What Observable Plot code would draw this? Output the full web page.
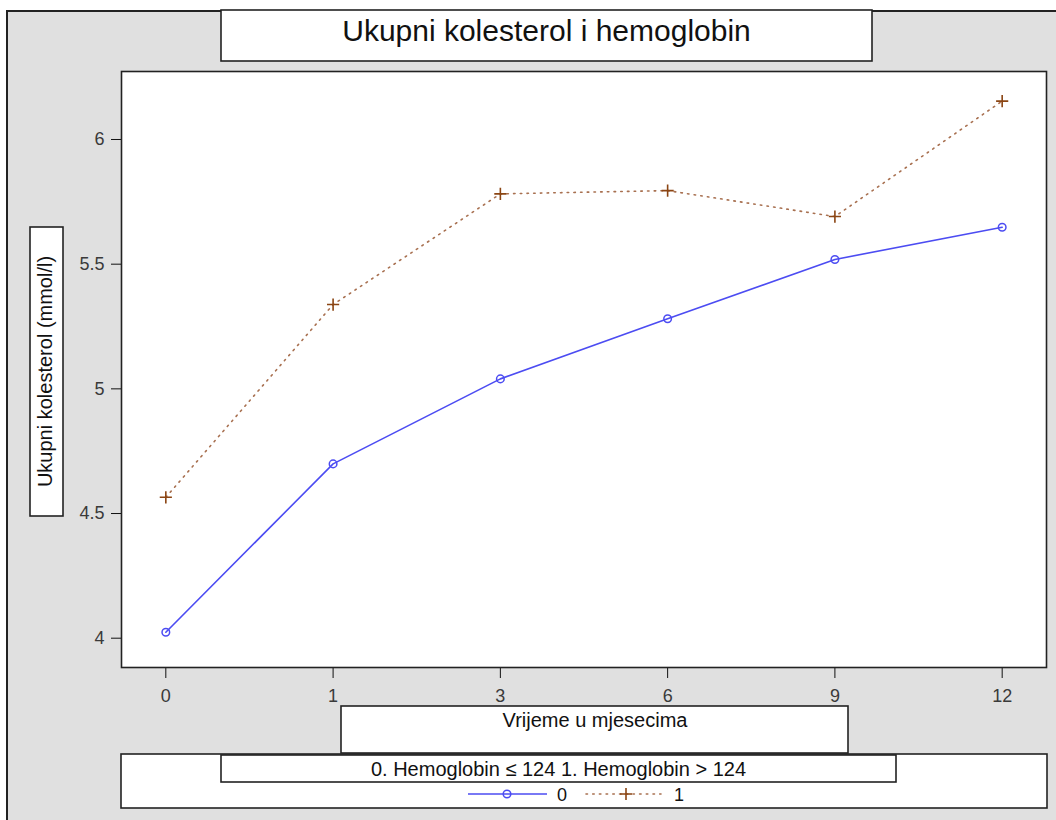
<!DOCTYPE html>
<html>
<head>
<meta charset="utf-8">
<script src="https://cdn.jsdelivr.net/npm/d3@7"></script>
<script src="https://cdn.jsdelivr.net/npm/@observablehq/plot@0.6"></script>
<style>
  html, body { margin: 0; padding: 0; background: white; }
  #chart { width: 1056px; height: 820px; overflow: hidden; }
</style>
</head>
<body>
<div id="chart"></div>
<script>
// ---- data ----
const months = ["0", "1", "3", "6", "9", "12"];
const group0 = [4.024, 4.699, 5.040, 5.281, 5.519, 5.648];   // Hemoglobin <= 124
const group1 = [4.565, 5.338, 5.782, 5.795, 5.691, 6.154];   // Hemoglobin > 124
const seriesNames = ["0", "1"];
const yTicks = [4, 4.5, 5, 5.5, 6];
const titleText = "Ukupni kolesterol i hemoglobin";
const yLabelText = "Ukupni kolesterol (mmol/l)";
const xLabelText = "Vrijeme u mjesecima";
const legendTitleText = "0. Hemoglobin ≤ 124 1. Hemoglobin > 124";

const rows0 = months.map((m, i) => ({month: m, value: group0[i], series: seriesNames[0]}));
const rows1 = months.map((m, i) => ({month: m, value: group1[i], series: seriesNames[1]}));

const blue = "#4c4cf2";
const brown = "#8b4513";
const dotted = "#a87050";
const font = "'Liberation Sans', Arial, Helvetica, sans-serif";

const svgNode = Plot.plot({
  width: 1056,
  height: 820,
  marginLeft: 121,
  marginTop: 71,
  marginRight: 10,
  marginBottom: 153,
  style: {background: "none", fontFamily: font, fontSize: "18px", color: "#222"},
  x: {type: "point", domain: months, padding: 0.265, round: false, label: null},
  y: {domain: [3.8825, 6.2727], label: null},
  marks: [
    Plot.frame({fill: "white", stroke: null}),
    Plot.axisY({ticks: yTicks, tickSize: 10, tickPadding: 7, tickFormat: d => String(d), label: null, fill: "#3a3a3a", stroke: "#111"}),
    Plot.axisX({tickSize: 11, tickPadding: 11, label: null, fill: "#3a3a3a", stroke: "#111"}),
    Plot.line(rows1, {x: "month", y: "value", stroke: dotted, strokeWidth: 1.6, strokeDasharray: "1.5,5.2", strokeLinecap: "round"}),
    Plot.line(rows0, {x: "month", y: "value", stroke: blue, strokeWidth: 1.6}),
    Plot.dot(rows0, {x: "month", y: "value", symbol: "circle", r: 3.8, stroke: blue, fill: "none", strokeWidth: 1.5}),
    Plot.dot(rows1, {x: "month", y: "value", symbol: "plus", r: 4, stroke: brown, strokeWidth: 1.6}),
    Plot.frame({stroke: "#222", strokeWidth: 1.6, fill: "none"})
  ]
});

document.getElementById("chart").appendChild(svgNode);
const svg = d3.select(svgNode);

// gray outer frame behind everything
svg.insert("rect", ":first-child")
  .attr("x", 7).attr("y", 11).attr("width", 1200).attr("height", 1000)
  .attr("fill", "#e0e0e0").attr("stroke", "#222").attr("stroke-width", 2);

function box(x0, y0, x1, y1) {
  svg.append("rect")
    .attr("x", x0).attr("y", y0).attr("width", x1 - x0).attr("height", y1 - y0)
    .attr("fill", "white").attr("stroke", "#222").attr("stroke-width", 1.6);
}
function label(txt, x, y, size, opts = {}) {
  const t = svg.append("text")
    .attr("x", opts.rotate ? 0 : x).attr("y", opts.rotate ? 0 : y)
    .attr("text-anchor", opts.anchor || "middle")
    .attr("font-family", font).attr("font-size", size)
    .attr("fill", "#111").text(txt);
  if (opts.rotate) t.attr("transform", `translate(${x},${y}) rotate(-90)`);
  return t;
}

// title
box(221, 10, 872, 61);
label(titleText, 546.5, 40.5, 30);

// y label
box(30, 227, 63, 516);
label(yLabelText, 51.5, 371.5, 20, {rotate: true});

// x label
box(341, 706, 848, 753);
label(xLabelText, 595, 726.7, 20);

// legend
box(121, 754, 1047, 808);
box(221, 755, 896, 782);
label(legendTitleText, 558.5, 775.7, 20);

const ly = 794;
svg.append("line").attr("x1", 468).attr("x2", 547).attr("y1", ly).attr("y2", ly)
  .attr("stroke", blue).attr("stroke-width", 1.6);
svg.append("circle").attr("cx", 507).attr("cy", ly).attr("r", 3.8)
  .attr("fill", "none").attr("stroke", blue).attr("stroke-width", 1.5);
label(seriesNames[0], 557, 800.5, 18, {anchor: "start"});

svg.append("line").attr("x1", 586).attr("x2", 661).attr("y1", ly).attr("y2", ly)
  .attr("stroke", dotted).attr("stroke-width", 1.6).attr("stroke-dasharray", "1.5,5.2").attr("stroke-linecap", "round");
svg.append("path").attr("d", `M620,${ly}H632M626,${ly - 6}V${ly + 6}`)
  .attr("stroke", brown).attr("stroke-width", 1.6).attr("fill", "none");
label(seriesNames[1], 674, 800.5, 18, {anchor: "start"});
</script>
</body>
</html>
